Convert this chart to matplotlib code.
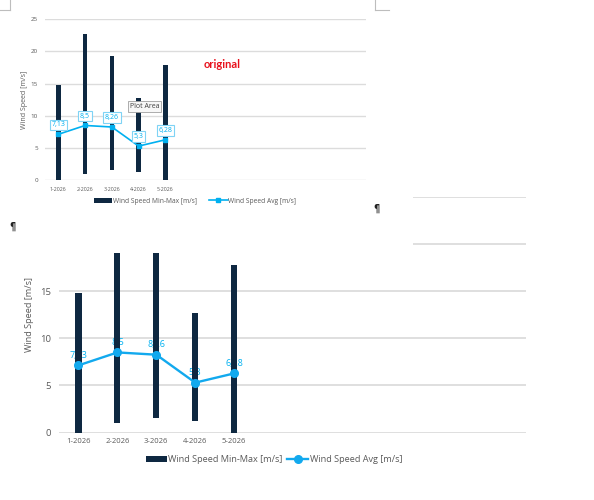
import matplotlib
matplotlib.use("Agg")
import matplotlib.pyplot as plt
from matplotlib.patches import Rectangle
from matplotlib.lines import Line2D
import numpy as np

plt.rcParams['font.family'] = ['Open Sans', 'DejaVu Sans']

# ---- data ----
categories = ["1-2026", "2-2026", "3-2026", "4-2026", "5-2026"]
n_slots = 12  # category slots on the axis (remaining ones empty)
wind_min = [0.0, 1.0, 1.6, 1.25, 0.0]
wind_max = [14.8, 22.6, 19.2, 12.7, 17.8]
wind_avg = [7.13, 8.5, 8.26, 5.3, 6.28]
avg_labels = ["7,13", "8,5", "8,26", "5,3", "6,28"]
yticks = [0, 5, 10, 15, 20, 25]
series_names = ["Wind Speed Min-Max [m/s]", "Wind Speed Avg [m/s]"]
y_label = "Wind Speed [m/s]"

NAVY = "#0E2841"
BLUE = "#12A9EE"
LBLUE = "#00B0F0"
GRID = "#DCDCDC"
TXT = "#595959"

W, H = 594, 500
fig = plt.figure(figsize=(W / 100, H / 100), dpi=100)
fig.patch.set_facecolor("white")

def fx(px):
    return px / W

def fy(py):
    return 1 - py / H

x = np.arange(len(categories))
lo = np.array(wind_min)
hi = np.array(wind_max)

def style_axes(ax, tick_fs, xt_fs, grid_lw):
    ax.set_xlim(-0.5, n_slots - 0.5)
    ax.set_ylim(0, 25)
    ax.set_yticks(yticks)
    ax.set_xticks(x)
    ax.set_xticklabels(categories, fontsize=xt_fs, color=TXT)
    ax.tick_params(axis="y", labelsize=tick_fs, labelcolor=TXT, length=0, pad=6)
    ax.tick_params(axis="x", length=0, pad=4)
    for s in ax.spines.values():
        s.set_visible(False)
    ax.yaxis.grid(True, color=GRID, lw=grid_lw)
    ax.set_axisbelow(True)

# ---------------- bottom chart ----------------
axb = fig.add_axes([fx(59), fy(432.7), fx(526 - 59), (432.7 - 196.6) / H])
axb.set_zorder(0)
style_axes(axb, 6.8, 5.5, 1.3)
bb = axb.bar(x, hi - lo, bottom=lo, width=0.16, color=NAVY, zorder=3,
             label=series_names[0])
lb, = axb.plot(x, wind_avg, color=BLUE, lw=1.7, marker="o", ms=5.5, zorder=4,
               label=series_names[1])
for xi, v, t in zip(x, wind_avg, avg_labels):
    axb.annotate(t, (xi, v), xytext=(0, 7), textcoords="offset points",
                 ha="center", va="center", fontsize=6.5, color=LBLUE, zorder=2)
axb.set_ylabel(y_label, fontsize=6.6, color=TXT, labelpad=4)
axb.legend(handles=[bb, lb], loc="center", bbox_to_anchor=(0.46, -0.115), ncol=2,
           frameon=False, fontsize=6.6, handlelength=2.3, handletextpad=0.15,
           columnspacing=0.5, labelcolor=TXT)

# cover (overlaid screenshot area)
cover = Rectangle((0, fy(253)), fx(413), 253 / H, transform=fig.transFigure,
                  facecolor="white", edgecolor="none", zorder=1)
fig.add_artist(cover)

# ---------------- top (original) chart ----------------
axt = fig.add_axes([fx(45), fy(180.3), fx(366 - 45), (180.3 - 19) / H])
axt.set_zorder(2)
axt.patch.set_alpha(0)
style_axes(axt, 4.5, 3.8, 1.0)
axt.tick_params(axis="y", pad=5)
axt.tick_params(axis="x", pad=5)
bt = axt.bar(x, hi - lo, bottom=lo, width=0.175, color=NAVY, zorder=3,
             label=series_names[0])
lt, = axt.plot(x, wind_avg, color=LBLUE, lw=1.2, marker="s", ms=2.2, zorder=4,
               label=series_names[1])
for xi, v, t in zip(x, wind_avg, avg_labels):
    axt.annotate(t, (xi, v), xytext=(0, 6.8), textcoords="offset points",
                 ha="center", va="center", fontsize=5, color=LBLUE, zorder=5,
                 bbox=dict(boxstyle="square,pad=0.25", fc="white",
                           ec="#7FD3F5", lw=0.8))
axt.set_ylabel(y_label, fontsize=5, color=TXT, labelpad=2)
axt.legend(handles=[bt, lt], loc="center", bbox_to_anchor=(0.467, -0.13), ncol=2,
           frameon=False, fontsize=4.8, handlelength=2.8, handletextpad=0.1,
           columnspacing=1.8, labelcolor=TXT)
axt.text(0.31, 0.46, "Plot Area", transform=axt.transAxes, fontsize=5,
         color="#404040", ha="center", va="center", zorder=6,
         bbox=dict(boxstyle="square,pad=0.3", fc="#F7F7F7", ec="#A0A0A0", lw=0.6))

fig.text(fx(222), fy(64), "original", fontsize=8, fontweight="bold",
         color="#E8101B", ha="center", va="center", family="Lato", zorder=3)

# pilcrows
fig.text(fx(12), fy(227), "\u00b6", fontsize=7, fontweight="bold",
         color="#222222", ha="center", va="center", zorder=3, family="DejaVu Sans")
fig.text(fx(376), fy(209), "\u00b6", fontsize=7, fontweight="bold",
         color="#222222", ha="center", va="center", zorder=3, family="DejaVu Sans")

# crop marks of the page
for xs, ys in [((0, 10), (10, 10)), ((10, 10), (0, 10)),
               ((375, 375), (0, 10)), ((375, 389), (10, 10))]:
    fig.add_artist(Line2D([fx(v) for v in xs], [fy(v) for v in ys],
                          transform=fig.transFigure, color="#BDBDBD", lw=0.8,
                          zorder=3))

fig.savefig("out.png", dpi=100, facecolor="white")
